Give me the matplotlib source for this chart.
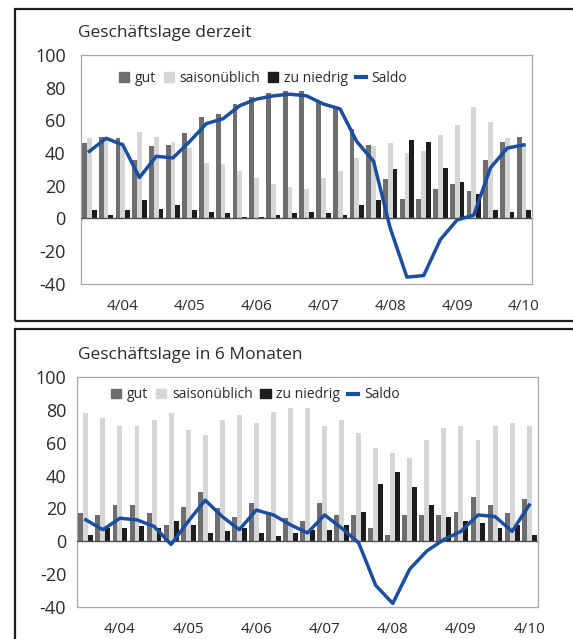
import matplotlib
matplotlib.use("Agg")
import matplotlib.pyplot as plt
import numpy as np
from matplotlib.patches import Rectangle
from matplotlib.lines import Line2D

plt.rcParams['font.family'] = ['Open Sans', 'DejaVu Sans']
plt.rcParams['axes.unicode_minus'] = False

# Quarterly survey results (share of answers in %, Saldo = balance)
tick_labels = ['4/04', '4/05', '4/06', '4/07', '4/08', '4/09', '4/10']
tick_index = [2, 6, 10, 14, 18, 22, 26]

# Current business situation
gut_now = [46, 50, 49, 36, 44, 45, 52, 62, 64, 70, 74, 77, 78, 78,
           72, 67, 55, 45, 24, 12, 12, 18, 21, 17, 36, 47, 50]
saison_now = [49, 49, 47, 53, 50, 47, 43, 34, 33, 29, 25, 21, 19, 18,
              25, 29, 37, 44, 46, 40, 41, 51, 57, 68, 59, 49, 45]
niedrig_now = [5, 2, 5, 11, 6, 8, 5, 4, 3, 1, 1, 2, 3, 4,
               3, 2, 8, 11, 30, 48, 47, 31, 22, 15, 5, 4, 5]
saldo_now = [41, 49, 45, 25, 38, 37, 47, 58, 61, 69, 73, 75, 76, 75,
             70, 67, 47, 35, -6, -36, -35, -13, -1, 2, 31, 43, 45]

# Expected business situation in six months
gut_6m = [17, 16, 22, 22, 17, 10, 21, 30, 20, 15, 23, 18, 14, 12,
          23, 16, 16, 8, 4, 16, 16, 16, 18, 27, 22, 17, 26]
saison_6m = [78, 75, 70, 70, 74, 78, 68, 65, 74, 77, 72, 79, 81, 81,
             70, 74, 66, 57, 54, 51, 62, 69, 70, 62, 70, 72, 70]
niedrig_6m = [4, 8, 8, 9, 8, 12, 10, 5, 6, 8, 5, 3, 5, 7,
              7, 10, 18, 35, 42, 33, 22, 15, 12, 11, 8, 10, 4]
saldo_6m = [13, 7, 14, 13, 9, -2, 12, 25, 15, 7, 19, 16, 10, 5,
            16, 8, -1, -27, -38, -17, -6, 1, 6, 16, 15, 6, 22]

C_GUT = '#6e6e70'
C_SAISON = '#d5d6d8'
C_NIEDRIG = '#1f1b1c'
C_SALDO = '#1c4ea0'
TXT = '#2a2a2a'

W, H = 573, 639
fig = plt.figure(figsize=(W / 100, H / 100), dpi=100)


def px_axes(x0, y0, x1, y1):
    return fig.add_axes([x0 / W, 1 - y1 / H, (x1 - x0) / W, (y1 - y0) / H])


def panel(ax, gut, saison, niedrig, saldo, ypad, xpad, leg_xy):
    x = np.arange(len(gut))
    bw = 0.29
    ax.bar(x, saison, bw, color=C_SAISON, zorder=2)
    ax.bar(x - bw, gut, bw, color=C_GUT, zorder=3)
    ax.bar(x + bw, niedrig, bw, color=C_NIEDRIG, zorder=3)
    ax.axhline(0, color='#505050', lw=1.0, zorder=4)
    ax.plot(x, saldo, color=C_SALDO, lw=2.5, zorder=5)
    ax.set_xlim(-0.5, len(gut) - 0.5)
    ax.set_ylim(-40, 100)
    ax.set_yticks(np.arange(-40, 101, 20))
    ax.set_xticks(tick_index)
    ax.set_xticklabels(tick_labels)
    ax.tick_params(axis='y', length=0, pad=ypad, labelsize=13, colors=TXT)
    ax.tick_params(axis='x', length=0, pad=xpad, labelsize=11, colors=TXT)
    for s in ax.spines.values():
        s.set_color('#a8a8a8')
        s.set_linewidth(0.9)
    handles = [Rectangle((0, 0), 1, 1, color=C_GUT),
               Rectangle((0, 0), 1, 1, color=C_SAISON),
               Rectangle((0, 0), 1, 1, color=C_NIEDRIG),
               Line2D([0], [0], color=C_SALDO, lw=3)]
    ax.legend(handles, ['gut', 'saisonüblich', 'zu niedrig', 'Saldo'],
              ncol=4, loc='upper left', bbox_to_anchor=leg_xy,
              frameon=False, fontsize=10, handlelength=0.75, handleheight=0.7,
              handletextpad=0.4, columnspacing=0.55, labelcolor=TXT,
              borderaxespad=0.3)


ax1 = px_axes(81, 55, 532.3, 283.7)
panel(ax1, gut_now, saison_now, niedrig_now, saldo_now, ypad=11, xpad=11,
      leg_xy=(0.062, 0.972))
ax2 = px_axes(77.3, 377.3, 537.7, 606.7)
panel(ax2, gut_6m, saison_6m, niedrig_6m, saldo_6m, ypad=8, xpad=11,
      leg_xy=(0.052, 0.998))

fig.text(78 / W, 1 - 33 / H, 'Geschäftslage derzeit', fontsize=12.5,
         color=TXT, va='center', ha='left')
fig.text(78 / W, 1 - 355 / H, 'Geschäftslage in 6 Monaten', fontsize=12.5,
         color=TXT, va='center', ha='left')

# outer frames around the two panels
for (y0, y1) in [(9, 321), (329, 660)]:
    fig.patches.append(Rectangle((14.6 / W, 1 - y1 / H), (600 - 14.6) / W,
                                 (y1 - y0) / H, transform=fig.transFigure,
                                 fill=False, edgecolor='#1e1e1e', lw=1.6,
                                 clip_on=False))

fig.savefig('out.png', dpi=100)
